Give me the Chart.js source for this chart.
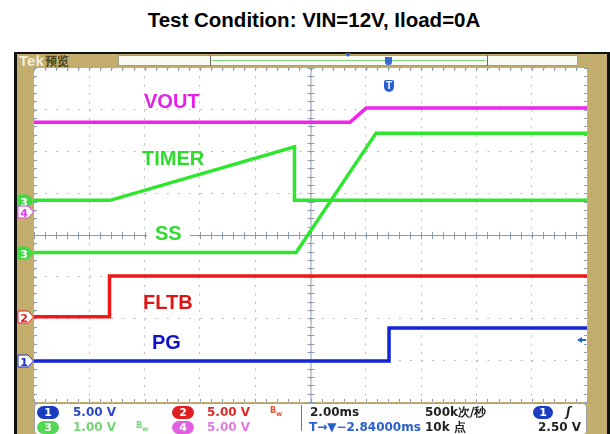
<!DOCTYPE html>
<html>
<head>
<meta charset="utf-8">
<script src="https://cdn.jsdelivr.net/npm/chart.js@4"></script>
<style>
body { margin: 0; background: #fff; font-family: "Liberation Sans", Arial, sans-serif; }
#wrap { position: relative; width: 610px; height: 434px; overflow: hidden; }
.abs { position: absolute; }
#title { left: 0; top: 8px; width: 628px; line-height: 24px; font-size: 20.5px; font-weight: bold; text-align: center; color: #000; }
#bezel { left: 14px; top: 52px; width: 600px; height: 390px; background: #111; }
#tan { left: 17px; top: 54px; width: 590px; height: 390px; background: #c2ad6c; }
#screen { left: 34px; top: 68px; width: 553px; height: 334px; background: #fff; }
#hdrbar { left: 118px; top: 55px; width: 460px; height: 11px; background: #fbfbf6; border: 1px solid #9c9c8c; box-sizing: border-box; }
#footer { left: 34px; top: 403px; width: 553px; height: 32px; background: #fff; border: 1px solid #a0a0a0; border-radius: 4px; box-sizing: border-box; }
#scope { position: absolute; left: 0; top: 0; }
.lbl { position: absolute; font-size: 20px; line-height: 24px; font-weight: bold; }
.ft { position: absolute; font-family: "DejaVu Sans", sans-serif; font-size: 12px; font-weight: bold; line-height: 14px; white-space: nowrap; }
.pill { position: absolute; width: 22px; height: 13px; border-radius: 7px; color: #fff; font-family: "DejaVu Sans", sans-serif; font-size: 11px; font-weight: bold; line-height: 13px; text-align: center; }
</style>
</head>
<body>
<div id="wrap">
  <div id="title" class="abs">Test Condition: VIN=12V, Iload=0A</div>
  <div id="bezel" class="abs"></div>
  <div id="tan" class="abs"></div>
  <div class="abs" style="left:19px;top:53px;font-size:15px;font-weight:bold;color:#f4efdc;line-height:16px;">Tek</div>
  <div class="abs" style="left:45px;top:54px;font-family:'Noto Sans CJK SC';font-size:12px;font-weight:bold;color:#4a4420;line-height:14px;">预览</div>
  <div id="hdrbar" class="abs"></div>
  <div class="abs" style="left:210px;top:55px;width:1px;height:11px;background:#6a6a60;"></div>
  <div class="abs" style="left:487px;top:55px;width:1px;height:11px;background:#6a6a60;"></div>
  <div class="abs" style="left:212px;top:60px;width:274px;height:1px;background:#7ad87a;"></div>
  <div class="abs" style="left:345px;top:53px;width:0;height:0;border-left:3px solid transparent;border-right:3px solid transparent;border-top:4px solid #2a5fd0;"></div>
  <div class="abs" style="left:385px;top:57px;width:7px;height:8px;background:#3a6ad8;border-radius:0 0 3px 3px;"></div>
  <div id="screen" class="abs"></div>
  <div id="footer" class="abs"></div>

  <canvas id="scope" width="610" height="434"></canvas>

  <!-- trace labels -->
  <div class="lbl" style="left:144px;top:89px;color:#e421e4;">VOUT</div>
  <div class="lbl" style="left:142px;top:146px;color:#2edc2e;">TIMER</div>
  <div class="lbl" style="left:147px;top:221px;color:#2edc2e;background:#fff;padding:0 8px;">SS</div>
  <div class="lbl" style="left:143px;top:290px;color:#e01414;">FLTB</div>
  <div class="lbl" style="left:152px;top:330px;color:#1010c8;">PG</div>

  <!-- trigger icon inside the graticule -->
  <div class="abs" style="left:384px;top:80px;width:10px;height:12px;background:#2a5fd0;border-radius:2px 2px 5px 5px;color:#fff;font-size:10px;font-weight:bold;line-height:12px;text-align:center;">T</div>
  <!-- trigger level arrow -->
  <div class="abs" style="left:577px;top:337px;width:0;height:0;border-top:3px solid transparent;border-bottom:3px solid transparent;border-right:5px solid #2a5fd0;"></div>
  <div class="abs" style="left:582px;top:339px;width:4px;height:2px;background:#2a5fd0;"></div>

  <!-- channel ground markers -->
  <svg class="abs" style="left:17px;top:194px;" width="18" height="14"><polygon points="1,1 11,1 16.5,7 11,13 1,13" fill="#44d844" stroke="#44d844"/><text x="7" y="11.5" font-size="11" font-weight="bold" fill="#fff" text-anchor="middle" font-family="DejaVu Sans">3</text></svg>
  <svg class="abs" style="left:17px;top:205px;" width="18" height="14"><polygon points="1,1 11,1 16.5,7 11,13 1,13" fill="#fff" stroke="#e040e0"/><text x="7" y="11.5" font-size="11" font-weight="bold" fill="#e040e0" text-anchor="middle" font-family="DejaVu Sans">4</text></svg>
  <svg class="abs" style="left:17px;top:246px;" width="18" height="14"><polygon points="1,1 11,1 16.5,7 11,13 1,13" fill="#44d844" stroke="#44d844"/><text x="7" y="11.5" font-size="11" font-weight="bold" fill="#fff" text-anchor="middle" font-family="DejaVu Sans">3</text></svg>
  <svg class="abs" style="left:17px;top:310px;" width="18" height="14"><polygon points="1,1 11,1 16.5,7 11,13 1,13" fill="#fff" stroke="#e02020"/><text x="7" y="11.5" font-size="11" font-weight="bold" fill="#e02020" text-anchor="middle" font-family="DejaVu Sans">2</text></svg>
  <svg class="abs" style="left:17px;top:354px;" width="18" height="14"><polygon points="1,1 11,1 16.5,7 11,13 1,13" fill="#fff" stroke="#2030c0"/><text x="7" y="11.5" font-size="11" font-weight="bold" fill="#2030c0" text-anchor="middle" font-family="DejaVu Sans">1</text></svg>

  <!-- readout panel -->
  <div class="pill" style="left:37px;top:406px;background:#1a3cc0;">1</div>
  <div class="ft" style="left:73px;top:405px;color:#2a48c8;">5.00 V</div>
  <div class="pill" style="left:172px;top:406px;background:#e02020;">2</div>
  <div class="ft" style="left:207px;top:405px;color:#e02828;">5.00 V</div>
  <div class="ft" style="left:270px;top:404px;color:#e05030;font-size:8px;">B<sub>w</sub></div>
  <div class="pill" style="left:37px;top:421px;background:#55d855;">3</div>
  <div class="ft" style="left:73px;top:420px;color:#72d472;">1.00 V</div>
  <div class="ft" style="left:136px;top:419px;color:#72d472;font-size:8px;">B<sub>w</sub></div>
  <div class="pill" style="left:172px;top:421px;background:#e060e0;">4</div>
  <div class="ft" style="left:207px;top:420px;color:#e07ae0;">5.00 V</div>
  <div class="abs" style="left:301px;top:405px;width:1px;height:26px;background:#777;"></div>
  <div class="ft" style="left:310px;top:405px;color:#222;">2.00ms</div>
  <div class="ft" style="left:425px;top:405px;color:#222;">500k次/秒</div>
  <div class="pill" style="left:533px;top:406px;width:20px;background:#1a3cc0;">1</div>
  <div class="ft" style="left:566px;top:405px;color:#222;font-style:italic;">ʃ</div>
  <div class="ft" style="left:309px;top:420px;color:#2a5fd0;">T→▼−2.84000ms <span style="color:#222;">10k 点</span></div>
  <div class="ft" style="left:538px;top:420px;color:#222;">2.50 V</div>
</div>

<script>
// time axis in ms (2 ms/div, 10 div), vertical axis in divisions (center = 0)
const voutX  = [0, 11.43, 12.01, 20];
const voutY  = [2.70, 2.70, 3.04, 3.04];
const timerX = [0, 2.75, 9.42, 9.42, 20];
const timerY = [0.83, 0.83, 2.11, 0.83, 0.83];
const ssX    = [0, 9.48, 12.37, 20];
const ssY    = [-0.42, -0.42, 2.44, 2.44];
const fltbX  = [0, 2.73, 2.73, 20];
const fltbY  = [-1.96, -1.96, -0.98, -0.98];
const pgX    = [0, 12.84, 12.84, 20];
const pgY    = [-3.02, -3.02, -2.23, -2.23];

const xMin = 0, xMax = 20, xStep = 2;
const yMin = -4, yMax = 4, yStep = 1;

function puntos(xs, ys) {
    return xs.map((x, i) => ({ x: x, y: ys[i] }));
}

function traza(label, xs, ys, color) {
    return {
        label: label,
        data: puntos(xs, ys),
        borderColor: color,
        borderWidth: 3.5,
        pointRadius: 0,
        tension: 0,
        fill: false
    };
}

// center crosshair with minor ticks, plus edge ticks, like the scope graticule
const graticula = {
    id: 'graticula',
    beforeDatasetsDraw(chart) {
        const { ctx, chartArea: a, scales: { x, y } } = chart;
        const cx = x.getPixelForValue((xMin + xMax) / 2);
        const cy = y.getPixelForValue(0);
        ctx.save();
        ctx.strokeStyle = '#8d9bb2';
        ctx.lineWidth = 1;
        ctx.beginPath();
        ctx.moveTo(a.left, cy + 0.5); ctx.lineTo(a.right, cy + 0.5);
        ctx.moveTo(cx + 0.5, a.top); ctx.lineTo(cx + 0.5, a.bottom);
        for (let v = xMin; v <= xMax + 0.001; v += xStep / 5) {
            const px = Math.round(x.getPixelForValue(v)) + 0.5;
            ctx.moveTo(px, cy - 3); ctx.lineTo(px, cy + 4);
            ctx.moveTo(px, a.top); ctx.lineTo(px, a.top + 3);
            ctx.moveTo(px, a.bottom - 3); ctx.lineTo(px, a.bottom);
        }
        for (let v = yMin; v <= yMax + 0.001; v += yStep / 5) {
            const py = Math.round(y.getPixelForValue(v)) + 0.5;
            ctx.moveTo(cx - 3, py); ctx.lineTo(cx + 4, py);
            ctx.moveTo(a.left, py); ctx.lineTo(a.left + 3, py);
            ctx.moveTo(a.right - 3, py); ctx.lineTo(a.right, py);
        }
        ctx.stroke();
        ctx.restore();
    }
};

new Chart(document.getElementById('scope'), {
    type: 'line',
    data: {
        datasets: [
            traza('VOUT', voutX, voutY, '#f024ec'),
            traza('TIMER', timerX, timerY, '#2ee62e'),
            traza('SS', ssX, ssY, '#2ee62e'),
            traza('FLTB', fltbX, fltbY, '#ee1818'),
            traza('PG', pgX, pgY, '#1226d6')
        ]
    },
    options: {
        responsive: false,
        animation: false,
        devicePixelRatio: 1,
        layout: { padding: { left: 34, right: 23, top: 68, bottom: 32 } },
        plugins: {
            legend: { display: false },
            tooltip: { enabled: false }
        },
        scales: {
            x: {
                type: 'linear',
                min: xMin,
                max: xMax,
                ticks: { display: false, stepSize: xStep },
                grid: { color: '#bcbcbc', drawTicks: false },
                border: { display: false, dash: [2, 6.35] },
                afterFit: (scale) => { scale.height = 0; }
            },
            y: {
                type: 'linear',
                min: yMin,
                max: yMax,
                ticks: { display: false, stepSize: yStep },
                grid: { color: '#bcbcbc', drawTicks: false },
                border: { display: false, dash: [2, 9.06] },
                afterFit: (scale) => { scale.width = 0; }
            }
        }
    },
    plugins: [graticula]
});
</script>
</body>
</html>
